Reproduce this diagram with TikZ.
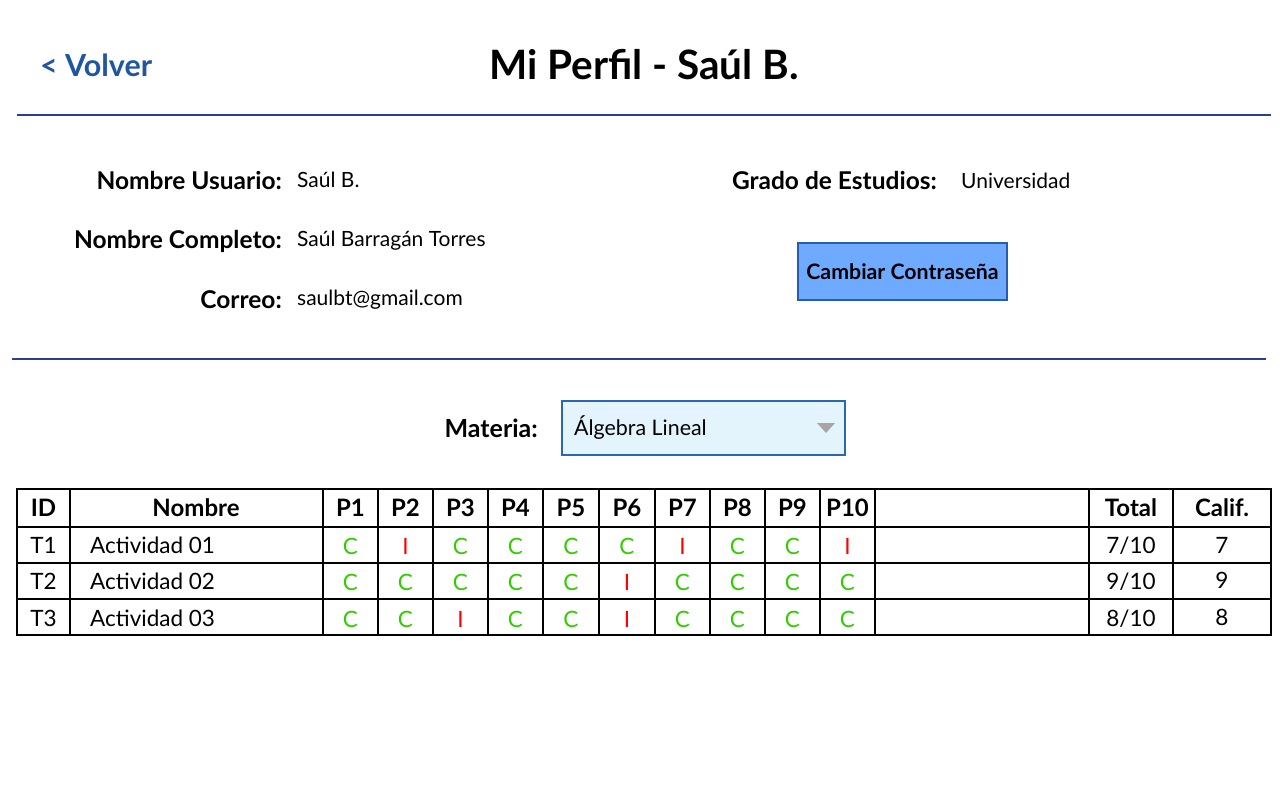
\documentclass[tikz,border=0pt]{standalone}
\usepackage{fontspec}
\setmainfont{Lato}
\definecolor{linkblue}{HTML}{1F56A0}
\definecolor{sepblue}{HTML}{2B3F8F}
\definecolor{btnfill}{HTML}{6EAAFF}
\definecolor{btnline}{HTML}{2A5CA8}
\definecolor{ddfill}{HTML}{E3F4FD}
\definecolor{ddline}{HTML}{2B65B3}
\definecolor{okgreen}{HTML}{33CC00}
\definecolor{badred}{HTML}{FF0000}
\tikzset{
  lbl/.style={font=\fontsize{24.5}{28}\selectfont\bfseries, anchor=east, inner sep=0},
  val/.style={font=\fontsize{21}{24}\selectfont, anchor=west, inner sep=0},
  hdr/.style={font=\fontsize{24}{28}\selectfont\bfseries, inner sep=0},
  cell/.style={font=\fontsize{22.5}{26}\selectfont, inner sep=0},
  okc/.style={cell, text=okgreen},
  badc/.style={cell, text=badred},
  grid/.style={line width=2pt, black},
  sepline/.style={line width=1.6pt, sepblue},
}
\begin{document}
\begin{tikzpicture}[x=1pt,y=-1pt]
\useasboundingbox[fill=white] (0,0) rectangle (1280,800);
% header
\node[font=\fontsize{30.4}{34}\selectfont\bfseries, text=linkblue, anchor=west, inner sep=0] (back) at (40,65) {< Volver};
\node[font=\fontsize{40.5}{46}\selectfont\bfseries, inner sep=0] (title) at (644,65) {Mi Perfil - Saúl B.};
\coordinate (s1a) at (17,115); \coordinate (s1b) at (1271,115);
\draw[sepline] (s1a) -- (s1b);
% profile info
\node[lbl] (l1) at (282,180) {Nombre Usuario:};
\node[val] (v1) at (297,180) {Saúl B.};
\node[lbl] (l2) at (282,241) {Nombre Completo:};
\node[val] (v2) at (297,241) {Saúl Barragán Torres};
\node[lbl] (l3) at (282,300) {Correo:};
\node[val] (v3) at (297,300) {saulbt@gmail.com};
\node[lbl] (l4) at (937,180) {Grado de Estudios:};
\node[val] (v4) at (961,181) {Universidad};
\node[draw=btnline, line width=1.5pt, fill=btnfill, minimum width=209pt, minimum height=57pt,
      font=\fontsize{21.3}{24}\selectfont\bfseries, inner sep=0] (btn) at (902.5,271.5) {Cambiar Contraseña};
\coordinate (s2a) at (12,359); \coordinate (s2b) at (1266,359);
\draw[sepline] (s2a) -- (s2b);
% materia
\node[lbl, font=\fontsize{25}{28}\selectfont\bfseries] (mat) at (538,428) {Materia:};
\node[draw=ddline, line width=1.5pt, fill=ddfill, minimum width=283pt, minimum height=54pt, inner sep=0] (dd) at (703.5,428) {};
\node[font=\fontsize{21.4}{24}\selectfont, anchor=west, inner sep=0] (ddtext) at (574,428) {Álgebra Lineal};
\fill[gray!70] (817,423) -- (835,423) -- (826,433) -- cycle;
% table grid
\draw[grid] (17,489) rectangle (1271,635);
\foreach \y in {527,563,599} \draw[grid] (17,\y) -- (1271,\y);
\foreach \x in {70,323,378,433,488,543,599,655,710,765,820,875,1089,1173} \draw[grid] (\x,489) -- (\x,635);
% header row
\node[hdr] (hid) at (43.5,508) {ID};
\node[hdr] (hnom) at (196,508) {Nombre};
\foreach \n/\x in {1/350.5,2/405.5,3/460.5,4/515.5,5/571,6/627,7/682.5,8/737.5,9/792.5,10/847.5}
  \node[hdr] (hp\n) at (\x,508) {P\n};
\node[hdr] (htot) at (1131,508) {Total};
\node[hdr] (hcal) at (1222,508) {Calif.};
% body rows
\foreach \r/\y/\tot/\cal/\cy in {1/545/7/7/545,2/581/9/9/580,3/618/8/8/617}{
  \node[cell] (id\r) at (43.5,\y) {T\r};
  \node[cell, anchor=west] (nm\r) at (90,\y) {Actividad 0\r};
  \node[cell] (tot\r) at (1131,\y+1) {\tot/10};
  \node[cell] (cal\r) at (1222,\cy) {\cal};
}
% answers
\foreach \x [count=\i] in {350.5,405.5,460.5,515.5,571,627,682.5,737.5,792.5,847.5}{
  \coordinate (col\i) at (\x,0);
}
\foreach \i/\s/\a in {1/okc/C,2/badc/I,3/okc/C,4/okc/C,5/okc/C,6/okc/C,7/badc/I,8/okc/C,9/okc/C,10/badc/I}
  \node[\s] (a1-\i) at (col\i |- 0,546) {\a};
\foreach \i/\s/\a in {1/okc/C,2/okc/C,3/okc/C,4/okc/C,5/okc/C,6/badc/I,7/okc/C,8/okc/C,9/okc/C,10/okc/C}
  \node[\s] (a2-\i) at (col\i |- 0,582) {\a};
\foreach \i/\s/\a in {1/okc/C,2/okc/C,3/badc/I,4/okc/C,5/okc/C,6/badc/I,7/okc/C,8/okc/C,9/okc/C,10/okc/C}
  \node[\s] (a3-\i) at (col\i |- 0,619) {\a};
\end{tikzpicture}
\end{document}
